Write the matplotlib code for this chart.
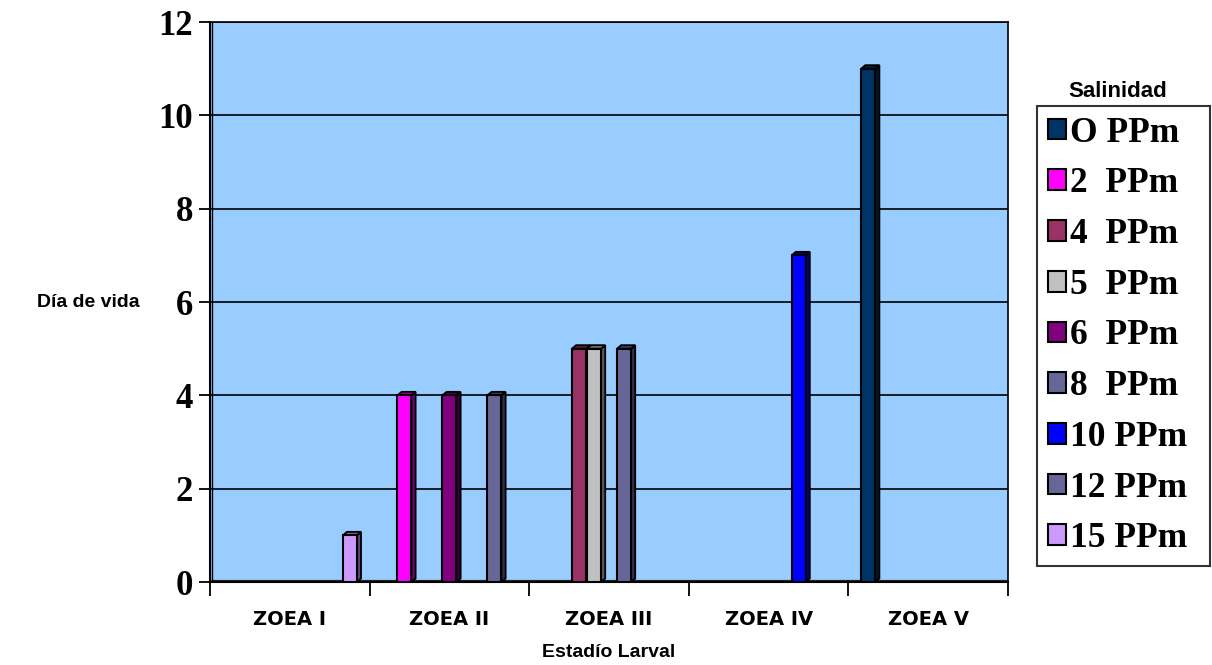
import numpy as np
import matplotlib
matplotlib.use("Agg")
import matplotlib.pyplot as plt
from matplotlib.patches import Polygon, Patch
from matplotlib.colors import to_rgb

# ==== data ====
estadios = ["ZOEA I", "ZOEA II", "ZOEA III", "ZOEA IV", "ZOEA V"]
series = ["O PPm", "2  PPm", "4  PPm", "5  PPm", "6  PPm", "8  PPm", "10 PPm", "12 PPm", "15 PPm"]
colors = ["#003366", "#FF00FF", "#993366", "#C0C0C0", "#800080",
          "#666699", "#0000FF", "#666699", "#CC99FF"]
valores = {
    "O PPm":  [0, 0, 0, 0, 11],
    "2  PPm": [0, 4, 0, 0, 0],
    "4  PPm": [0, 0, 5, 0, 0],
    "5  PPm": [0, 0, 5, 0, 0],
    "6  PPm": [0, 4, 0, 0, 0],
    "8  PPm": [0, 0, 5, 0, 0],
    "10 PPm": [0, 0, 0, 7, 0],
    "12 PPm": [0, 4, 0, 0, 0],
    "15 PPm": [1, 0, 0, 0, 0],
}

serif = "Liberation Serif"
sans = "Liberation Sans"

fig = plt.figure(figsize=(12.12, 6.65), dpi=100)
ax = fig.add_axes([0.1733, 0.1248, 0.6584, 0.8421])
ax.set_facecolor("#99CCFF")

x = np.arange(len(estadios))
slot = 0.094
bw = 0.088
dx, dy = 0.026, 0.075  # fake 3D depth

for j, name in enumerate(series):
    vals = np.array(valores[name], dtype=float)
    pos = x + (j - 4) * slot
    c = np.array(to_rgb(colors[j]))
    for xp, v in zip(pos, vals):
        if v <= 0:
            continue
        x0, x1 = xp - bw / 2, xp + bw / 2
        # cara lateral
        ax.add_patch(Polygon([(x1, 0), (x1 + dx, dy), (x1 + dx, v + dy), (x1, v)],
                             closed=True, facecolor=c * 0.45, edgecolor="black",
                             lw=1.3, zorder=3))
        # cara superior
        ax.add_patch(Polygon([(x0, v), (x0 + dx, v + dy), (x1 + dx, v + dy), (x1, v)],
                             closed=True, facecolor=c * 0.6, edgecolor="black",
                             lw=1.3, zorder=3))
    ax.bar(pos[vals > 0], vals[vals > 0], width=bw, color=colors[j],
           edgecolor="black", linewidth=1.5, zorder=4)

ax.set_xlim(-0.5, len(estadios) - 0.5)
ax.set_ylim(0, 12)
ax.set_yticks(range(0, 13, 2))
ax.yaxis.grid(True, color="black", lw=1.2, zorder=1)
ax.set_axisbelow(True)
ax.axhline(0, color="#222222", lw=3, zorder=2)
ax.axvline(-0.5 + 0.012, color="black", lw=1.0, zorder=2)

ax.set_xticks(x)
ax.set_xticklabels(estadios, fontfamily="DejaVu Sans", fontweight="bold", fontsize=14)
ax.set_xticks(np.arange(-0.5, len(estadios)), minor=True)
ax.tick_params(axis="x", which="major", length=0, pad=20)
ax.tick_params(axis="x", which="minor", length=10, width=1.3, direction="out")
ax.tick_params(axis="y", length=8, width=1.3, pad=4)
for t in ax.get_yticklabels():
    t.set_fontfamily(serif)
    t.set_fontweight("bold")
    t.set_fontsize(25)

for s in ["left", "bottom"]:
    ax.spines[s].set_linewidth(1.5)
for s in ["top", "right"]:
    ax.spines[s].set_linewidth(1.2)

fig.text(0.502, 0.0195, "Estadío Larval", fontfamily=sans, fontweight="bold",
         fontsize=14, ha="center", va="center")
fig.text(0.073, 0.545, "Día de vida", fontfamily=sans, fontweight="bold",
         fontsize=14, ha="center", va="center")

# leyenda
leg_x, leg_top = 1037 / 1212, 1 - 106 / 665
leg_w, leg_h = 173 / 1212, 456 / 665
handles = [Patch(facecolor=c, edgecolor="black", lw=1.5) for c in colors]
leg = fig.legend(handles, series, loc="upper left",
                 bbox_to_anchor=(leg_x, leg_top - leg_h, leg_w, leg_h), mode="expand",
                 borderaxespad=0, frameon=True, fancybox=False, borderpad=0.3,
                 labelspacing=0.5, handlelength=0.52, handleheight=0.52,
                 handletextpad=0.1,
                 prop={"family": serif, "weight": "bold", "size": 25.5})
leg.get_frame().set_edgecolor("black")
leg.get_frame().set_linewidth(1.5)
fig.text(0.9224, 0.8617, "Salinidad", fontfamily=sans, fontweight="bold",
         fontsize=16, ha="center", va="center")

fig.savefig("out.png", dpi=100)
